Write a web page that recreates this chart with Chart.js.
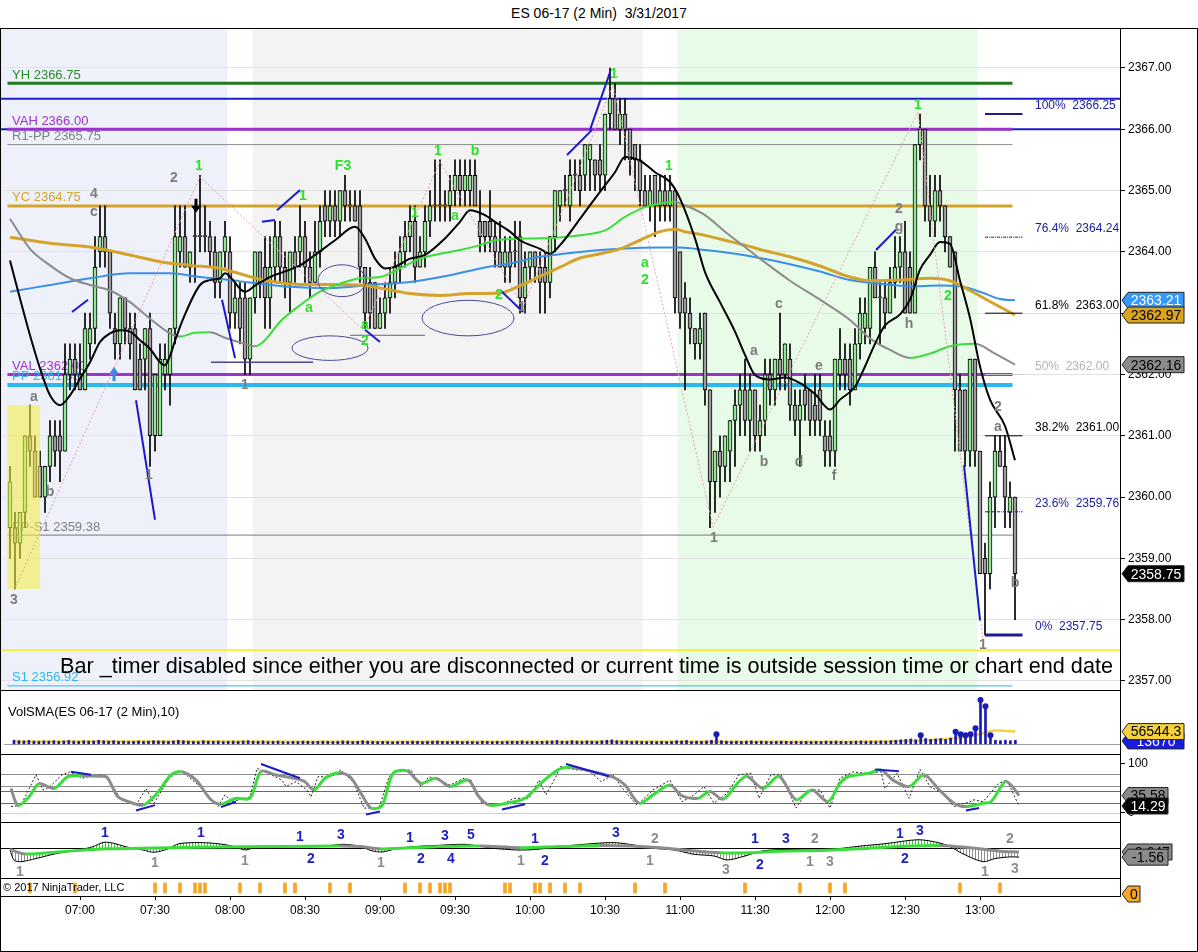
<!DOCTYPE html>
<html>
<head>
<meta charset="utf-8">
<title>ES 06-17 (2 Min) 3/31/2017</title>
<script src="https://cdn.jsdelivr.net/npm/chart.js@4.4.1/dist/chart.umd.min.js"></script>
<style>
html,body{margin:0;padding:0;background:#fff;}
body{width:1198px;height:952px;position:relative;overflow:hidden;font-family:"Liberation Sans",Arial,sans-serif;}
#title{position:absolute;left:0;top:5px;width:1198px;text-align:center;font-size:14px;color:#000;white-space:pre;}
.pane{position:absolute;left:0;width:1198px;}
.hl{position:absolute;height:1px;background:#000;}
.vl{position:absolute;width:1px;background:#000;}
</style>
</head>
<body>
<div id="title">ES 06-17 (2 Min)  3/31/2017</div>
<div class="pane" style="top:28px;height:662px"><canvas id="cMain"></canvas></div>
<div class="pane" style="top:690px;height:64px"><canvas id="cVol"></canvas></div>
<div class="pane" style="top:754px;height:68px"><canvas id="cSto"></canvas></div>
<div class="pane" style="top:822px;height:56px"><canvas id="cOsc"></canvas></div>
<div class="pane" style="top:878px;height:74px"><canvas id="cMrk"></canvas></div>
<div class="hl" style="left:0;top:28px;width:1198px"></div>
<div class="hl" style="left:0;top:690px;width:1121px"></div>
<div class="hl" style="left:0;top:754px;width:1121px"></div>
<div class="hl" style="left:0;top:822px;width:1121px"></div>
<div class="hl" style="left:0;top:878px;width:1121px"></div>
<div class="hl" style="left:0;top:896px;width:1121px"></div>
<div class="hl" style="left:0;top:951px;width:1198px"></div>
<div class="vl" style="left:1120px;top:28px;height:868px"></div>
<div class="vl" style="left:0;top:28px;height:924px"></div>
<div class="vl" style="left:1197px;top:28px;height:924px"></div>
<script>
// ======================= DATA =======================
const firstBarTime = '06:32';
const barMinutes = 2;
const viewStart = '06:28', viewEnd = '13:56';
const timeTicks = ['07:00','07:30','08:00','08:30','09:00','09:30','10:00','10:30','11:00','11:30','12:00','12:30','13:00'];
const priceTicks = [2357,2358,2359,2360,2361,2362,2363,2364,2365,2366,2367];

// OHLC per 2-minute bar: [open, high, low, close]
const bars = [
[2359.5,2360.5,2359,2360.25],[2359.5,2359.75,2358.5,2359.25],[2359.25,2359.75,2359,2359.75],[2359.75,2361,2359.5,2361],[2361,2361.5,2360.5,2360.75],
[2360.75,2361,2360,2360],[2360.5,2360.75,2360,2360],[2360,2360.5,2359.75,2360.5],[2360.5,2361.25,2360.25,2361],[2361,2361.25,2360.5,2360.75],
[2361,2361.25,2360.25,2360.75],[2360.75,2362.5,2360.75,2362],[2362,2362.5,2361.75,2362.25],[2362.25,2362.5,2361.75,2362],[2362,2362.5,2361.75,2361.75],
[2361.75,2363,2361.75,2362.75],[2362.5,2363,2362.25,2362.75],[2362.75,2364.25,2362.5,2363.75],[2364,2364.75,2363.75,2364.25],[2364.25,2364.75,2363.75,2364],
[2364,2364,2362.75,2363],[2362.75,2363,2362.25,2362.5],[2362.5,2363.25,2362.25,2363.25],[2363.25,2363.25,2362.5,2362.75],[2362.75,2363,2362.25,2362.5],
[2362.75,2363,2361.75,2361.75],[2362.25,2362.5,2361.75,2361.75],[2362.25,2362.75,2361.75,2362.75],[2362.75,2363,2360.5,2361],[2361,2362,2360.75,2362],
[2361,2362.5,2361,2362.25],[2362,2362.5,2361.75,2362.25],[2362,2362.75,2361.5,2362.75],[2362.75,2364.75,2362.5,2364.25],[2364,2364.75,2363.75,2364.25],
[2364.25,2364.75,2363.75,2363.75],[2363.75,2364,2363.5,2364],[2364.25,2364.75,2363.5,2364.25],[2364.25,2365.25,2364,2364.25],[2364.25,2364.75,2364,2364.25],
[2364.25,2364.5,2363.75,2364],[2364,2364.25,2363.25,2363.5],[2363.5,2364,2363.25,2364],[2364,2364.5,2363.75,2364.25],[2364,2364.25,2362.75,2363],
[2363,2363.5,2362.75,2363.25],[2363.25,2363.5,2362.5,2362.75],[2363.25,2363.5,2362,2362.25],[2362.25,2363.25,2362,2363.25],[2363.25,2364,2363,2364],
[2364,2364,2363.25,2363.5],[2363.75,2364.25,2362.75,2363.25],[2363.25,2364.25,2362.75,2363.75],[2363.75,2364.5,2363.5,2364.25],[2364.25,2364.5,2363.5,2363.75],
[2363.75,2364,2363.25,2363.5],[2363.5,2364,2363,2364],[2364,2364.25,2363.5,2363.75],[2364,2364.75,2363.75,2364.25],[2364.25,2364.5,2363.5,2363.75],
[2363.75,2364,2363.25,2363.5],[2363.5,2364.5,2363.5,2364],[2364,2364.75,2363.75,2364.5],[2364.75,2365,2364.25,2364.5],[2364.5,2365,2364.25,2364.75],
[2364.75,2365,2364.25,2364.5],[2364.5,2365,2364.25,2365],[2365,2365.25,2364.5,2364.75],[2364.75,2365,2364.5,2364.75],[2364.75,2365,2364.5,2364.5],
[2364.75,2365,2363.5,2363.75],[2363.75,2363.75,2362.75,2363],[2363.5,2363.75,2362.75,2363],[2363.5,2363.5,2362.75,2362.75],[2362.75,2363.25,2362.75,2363],
[2363,2363.5,2362.75,2363.25],[2363.25,2363.75,2363,2363.5],[2363.5,2364,2363.25,2363.75],[2363.75,2364.25,2363.5,2364],[2364,2364.5,2363.75,2364.25],
[2364.25,2364.75,2364,2364.5],[2364.5,2364.75,2363.5,2363.75],[2363.75,2364.25,2363.75,2364],[2364,2364.75,2363.75,2364.5],[2364.5,2365,2364.25,2364.75],
[2364.75,2365.5,2364.5,2364.75],[2364.75,2365.5,2364.5,2364.75],[2364.75,2365,2364.5,2364.75],[2364.75,2365.25,2364.5,2365],[2365,2365.5,2364.75,2365.25],
[2365.25,2365.5,2364.75,2365],[2365,2365.5,2364.75,2365.25],[2365,2365.5,2364.75,2365.25],[2365.25,2365.5,2364.75,2364.75],[2364.5,2365,2364,2364.25],
[2364.5,2364.5,2364,2364.25],[2364.5,2365,2364,2364.25],[2364.25,2364.5,2363.75,2364],[2364,2364.5,2363.75,2363.75],[2363.75,2364.25,2363.5,2364],
[2364,2364.25,2363.5,2363.75],[2364,2364.5,2363.75,2364],[2364.25,2364.5,2363,2363.25],[2363.25,2364,2363,2363.75],[2363.75,2364,2363.5,2364],
[2364,2364,2363.5,2363.75],[2363.75,2364,2363,2363.5],[2363.75,2364,2363,2363.5],[2363.5,2364.25,2363.25,2364.25],[2364.25,2365,2364,2365],
[2364.75,2365,2364.5,2365],[2365,2365.25,2364.75,2365],[2364.75,2365.5,2364.5,2365.25],[2365.25,2365.5,2365,2365.25],[2365.25,2365.5,2364.75,2365],
[2365.25,2365.75,2365,2365.75],[2365.5,2365.75,2365,2365.75],[2365.5,2365.5,2365,2365.25],[2365.5,2365.75,2365,2365.25],[2365.25,2366.25,2365,2366.25],
[2366.25,2367,2366,2366.5],[2366.5,2366.75,2366,2366],[2366,2366.5,2365.75,2366.25],[2366.25,2366.5,2365.5,2366],[2366,2366,2365.25,2365.5],
[2365.75,2365.75,2365,2365.5],[2365.5,2365.75,2364.75,2365],[2365,2365.25,2364.75,2364.75],[2364.75,2365.25,2364.5,2365],[2365.25,2365.25,2364.25,2364.75],
[2364.75,2365.25,2364.5,2365],[2365,2365.25,2364.5,2364.75],[2364.75,2365.25,2364.5,2365],[2365,2365,2363,2363.25],[2364,2364,2362.75,2363],
[2363.25,2363.5,2361.75,2363],[2363,2363.25,2362.5,2362.75],[2362.75,2362.75,2362.25,2362.5],[2362.5,2363,2362.25,2362.75],[2363,2363,2361.5,2361.75],
[2361.75,2361.75,2359.5,2360.25],[2360.25,2360.75,2359.75,2360.75],[2360.75,2361,2360,2360.5],[2360.5,2361,2360.25,2361],[2360.75,2361.25,2360.25,2361.25],
[2361.25,2361.75,2360.5,2361.5],[2361.5,2362,2361,2361.75],[2361.75,2362.25,2361,2361.25],[2361.25,2362,2360.75,2361.75],[2361.75,2361.75,2360.75,2361],
[2361,2361.5,2360.75,2361.25],[2361.25,2362.25,2361,2362],[2362,2362.25,2361.5,2361.75],[2361.75,2362.25,2361.5,2362.25],[2362.25,2363,2361.75,2362],
[2362,2362.5,2361.75,2362.5],[2362.25,2362.5,2361.25,2361.5],[2361.5,2361.75,2361,2361.25],[2361.25,2361.75,2360.5,2361.5],[2361.75,2362,2361.25,2361.5],
[2361.75,2361.75,2361,2361.25],[2361.5,2362,2361,2361.25],[2361.75,2362,2361,2361.25],[2361,2361.25,2360.5,2360.75],[2361,2361.25,2360.5,2360.75],
[2360.75,2362.25,2360.5,2362.25],[2362,2362.75,2361.75,2362.25],[2362.25,2362.5,2361.75,2362],[2362.25,2362.5,2361.5,2361.75],[2361.75,2362.75,2361.75,2362.5],
[2362.5,2363.25,2362.25,2363],[2362.75,2363.25,2362.5,2363],[2362.75,2363.75,2362.5,2363.75],[2363.75,2364,2363.25,2363.25],[2363.25,2363.5,2362.5,2363.25],
[2363.25,2363.5,2362.75,2363],[2363,2363.75,2363,2363.5],[2363.5,2364.25,2363.25,2363.75],[2363.75,2364.25,2363.5,2364],[2364,2364.5,2363,2363],
[2363.75,2364,2363,2363],[2363,2365.75,2363,2365.75],[2365.75,2366.25,2365.5,2366],[2366,2366,2364.5,2364.75],[2364.75,2365.25,2364.25,2364.5],
[2364.5,2365.25,2364.25,2365],[2365,2365.25,2364.5,2364.75],[2364.75,2364.75,2364,2364.25],[2364.25,2364.25,2363.75,2363.75],[2364,2364,2360.75,2361.75],
[2361.75,2362,2360.75,2360.75],[2361.75,2361.75,2360.5,2360.75],[2360.75,2362.25,2360.5,2362.25],[2362.25,2362.25,2360.5,2360.75],[2360.75,2360.75,2358.75,2358.75],
[2359,2359.25,2357.75,2358.75],[2358.75,2360.25,2358.5,2360],[2360,2361,2359.5,2360.75],[2360.75,2361,2360.5,2360.5],[2360.5,2361,2359.5,2360],
[2359.75,2360.25,2359.5,2360],[2360,2360,2358,2358.75]
];

// moving averages: [bar index, price]
const fastMA = [[0,2363.86],[2,2363.24],[4,2362.64],[6,2362.1],[8,2361.66],[10,2361.5],[12,2361.66],[14,2361.93],[16,2362.2],[18,2362.53],[20,2362.67],[22,2362.72],[24,2362.7],[26,2362.56],[28,2362.42],[30,2362.2],[31,2362.15],[32,2362.3],[33,2362.55],[35,2362.98],[38,2363.46],[40,2363.54],[42,2363.57],[43,2363.65],[45,2363.5],[46,2363.4],[47,2363.35],[49,2363.45],[52,2363.59],[58,2363.78],[61,2363.95],[65,2364.19],[69,2364.41],[71,2364.22],[73,2363.89],[75,2363.73],[77,2363.76],[80,2363.89],[83,2363.95],[87,2364.22],[90,2364.49],[92,2364.68],[95,2364.6],[97,2364.49],[100,2364.33],[102,2364.19],[106,2364.05],[108,2363.97],[110,2364.11],[114,2364.54],[118,2364.98],[121,2365.3],[123,2365.55],[126,2365.49],[129,2365.3],[132,2365.14],[134,2364.87],[137,2364.22],[139,2363.67],[142,2363.18],[145,2362.7],[147,2362.32],[149,2361.99],[152,2361.92],[155,2361.95],[158,2361.86],[161,2361.68],[164,2361.43],[166,2361.59],[169,2361.8],[171,2362.13],[173,2362.5],[175,2362.8],[178,2362.98],[180,2363.22],[182,2363.71],[184,2363.95],[186,2364.16],[188,2364.13],[190,2363.53],[192,2362.92],[194,2362.13],[196,2361.59],[199,2361.16],[201,2360.6]];
const midMA = [[0,2364.54],[4,2364.05],[8,2363.78],[12,2363.57],[16,2363.46],[20,2363.37],[24,2363.18],[28,2362.91],[32,2362.67],[34,2362.62],[37,2362.68],[40,2362.69],[43,2362.6],[47,2362.5],[49,2362.46],[51,2362.56],[54,2362.86],[58,2363.13],[62,2363.35],[66,2363.48],[70,2363.57],[74,2363.59],[78,2363.73],[82,2363.89],[86,2363.97],[90,2364.03],[94,2364.11],[97,2364.19],[100,2364.21],[105,2364.22],[109,2364.23],[114,2364.27],[119,2364.35],[123,2364.57],[127,2364.73],[130,2364.79],[133,2364.82],[135,2364.76],[139,2364.6],[143,2364.33],[147,2364.08],[150,2363.89],[156,2363.53],[162,2363.22],[168,2362.89],[172,2362.59],[176,2362.4],[180,2362.27],[184,2362.34],[188,2362.46],[193,2362.5],[197,2362.34],[201,2362.16]];
const goldMA = [[0,2364.24],[8,2364.14],[16,2364.08],[24,2363.95],[30,2363.84],[36,2363.78],[42,2363.73],[47,2363.62],[50,2363.55],[52,2363.52],[58,2363.47],[64,2363.47],[70,2363.46],[76,2363.38],[80,2363.32],[86,2363.29],[92,2363.32],[98,2363.33],[102,2363.45],[106,2363.6],[110,2363.75],[114,2363.9],[118,2363.97],[122,2364.05],[126,2364.19],[130,2364.33],[133,2364.37],[135,2364.33],[139,2364.27],[143,2364.19],[147,2364.11],[150,2364.04],[156,2363.92],[162,2363.77],[168,2363.59],[172,2363.53],[178,2363.54],[184,2363.57],[188,2363.53],[192,2363.37],[196,2363.19],[201,2362.97]];
const blueMA = [[0,2363.35],[8,2363.46],[16,2363.57],[24,2363.65],[32,2363.65],[38,2363.59],[44,2363.54],[48,2363.5],[56,2363.43],[64,2363.41],[72,2363.46],[80,2363.51],[88,2363.62],[96,2363.76],[100,2363.81],[106,2363.92],[114,2364],[122,2364.05],[130,2364.07],[134,2364.07],[139,2364.03],[145,2363.97],[150,2363.9],[156,2363.8],[162,2363.68],[168,2363.54],[174,2363.48],[180,2363.44],[186,2363.45],[190,2363.44],[194,2363.35],[198,2363.23],[201,2363.21]];

// session shading [from, to]
const regionTimes = [['06:28','07:59'],['08:09','10:45'],['10:59','12:59']];
const yellowZoneTimes = ['06:31','06:44'];
const yellowZonePrices = [2358.5, 2361.5];

// horizontal levels
const levelLabels = ['YH 2366.75','','','VAH 2366.00','R1-PP 2365.75','YC 2364.75','VAL 2362.00','PP 2361.83','PP-S1 2359.38','','S1 2356.92'];
const levelPrices = [2366.75,2366.5,2366.0,2366.0,2365.75,2364.75,2362.0,2361.83,2359.38,2357.5,2356.92];
const levelStart = '06:31';
const levelEnd = '13:13';

// fibonacci retracement
const fibPct = ['100%','76.4%','61.8%','50%','38.2%','23.6%','0%'];
const fibPrices = [2366.25,2364.24,2363.00,2362.00,2361.00,2359.76,2357.75];
const fibSpan = ['13:02','13:17'];
const fibLabelTime = '13:22';

// annotations [bar index, price, text]
const greenLabels = [[37.8,2365.4,'1'],[58.6,2364.91,'1'],[66.6,2365.4,'F3'],[85.6,2365.65,'1'],[93,2365.65,'b'],[81,2364.63,'1'],[89,2364.59,'a'],[59.8,2363.08,'a'],[71,2362.81,'a'],[71,2362.55,'2'],[97.8,2363.3,'2'],[120.8,2366.9,'1'],[131.8,2365.4,'1'],[127,2363.82,'a'],[127,2363.54,'2'],[181.6,2366.4,'1'],[187.6,2363.28,'2']];
const grayLabels = [[32.8,2365.2,'2'],[16.8,2364.94,'4'],[16.8,2364.65,'c'],[4.8,2361.63,'a'],[8,2360.08,'b'],[0.8,2358.32,'3'],[47,2361.83,'1'],[27.8,2360.36,'1'],[102.4,2363.1,'1'],[140.8,2359.33,'1'],[148.8,2362.38,'a'],[150.8,2360.57,'b'],[153.8,2363.15,'c'],[157.8,2360.57,'d'],[161.8,2362.14,'e'],[164.8,2360.34,'f'],[177.8,2364.7,'2'],[177.8,2364.41,'g'],[179.8,2362.82,'h'],[197.6,2361.47,'2'],[197.6,2361.14,'a'],[201,2358.6,'b'],[194.6,2357.59,'1']];
const trendLines = [[[12.4,2363.02],[15.6,2363.22]],[[25.2,2361.58],[29,2359.63]],[[42.4,2363.22],[45,2362.27]],[[50.4,2364.49],[53,2364.52]],[[53.4,2364.68],[58,2365.01]],[[71,2362.73],[74,2362.53]],[[98,2363.38],[102.6,2363.02]],[[111.4,2365.58],[116.4,2365.99]],[[116,2365.99],[120,2366.93]],[[173.2,2364.03],[177.2,2364.36]],[[190.8,2360.52],[194,2357.99]]];
const flatSegments = [[[40.2,2362.2],[60.6,2362.2]],[[68,2362.64],[83,2362.64]]];
const zigzag = [[0.8,2358.48],[38,2365.22],[70.6,2362.73],[86,2365.47],[102.6,2363.1],[120.6,2366.72],[140.6,2359.51],[181.6,2366.28],[194.6,2357.67]];
const ellipses = [[66.4,2363.53,4.8,0.26],[64,2362.43,7.6,0.2],[91.6,2362.92,9.2,0.29]]; // center idx, center price, half width (bars), half height (pts)
const downArrows = [[37.2,2364.72]];
const upArrows = [[20.8,2362.04]];
const statusMessage = 'Bar _timer disabled since either you are disconnected or current time is outside session time or chart end date';

// volume panel
const volumes = [14000,12000,11000,13000,10000,9000,11000,10000,12000,9000,
11000,13000,10000,9000,12000,10000,11000,14000,12000,10000,
12000,9000,10000,8000,9000,11000,9000,10000,12000,11000,
10000,9000,11000,14000,12000,10000,9000,8000,12000,10000,
9000,10000,8000,9000,10000,9000,11000,12000,10000,9000,
11000,8000,9000,10000,8000,7000,9000,8000,10000,9000,
8000,9000,10000,9000,8000,9000,11000,10000,8000,9000,
12000,10000,9000,8000,9000,8000,7000,8000,9000,8000,
10000,9000,8000,9000,10000,11000,9000,8000,9000,10000,
8000,9000,8000,7000,10000,9000,8000,9000,8000,9000,
10000,9000,11000,8000,9000,8000,9000,10000,11000,13000,
10000,9000,12000,10000,9000,11000,10000,9000,12000,14000,
16000,12000,10000,11000,9000,10000,9000,8000,9000,8000,
9000,8000,9000,12000,11000,13000,9000,10000,9000,11000,
14000,44000,12000,10000,9000,10000,9000,10000,11000,9000,
10000,9000,8000,9000,10000,9000,8000,9000,8000,9000,
8000,9000,8000,10000,9000,10000,9000,8000,9000,10000,
11000,9000,10000,9000,11000,10000,12000,14000,16000,18000,
20000,16000,40000,22000,18000,20000,22000,18000,24000,56000,
44000,40000,44000,72000,202000,174000,40000,14000,12000,14000,
12000,13670];
const volSMA = [[0,11000],[40,10500],[80,9500],[120,11000],[160,9500],[178,13000],[184,18000],[188,24000],[191,32000],[193,40000],[195,52000],[197,62000],[199,60000],[201,56544.3]];
const volTitle = 'VolSMA(ES 06-17 (2 Min),10)';

// stochastic panel
const stochSlow = [[0.2,50],[1.6,15],[3.8,33],[5.8,60],[8.8,50],[11.6,74],[14.4,76],[18,75],[19.4,73],[21.6,33],[23.8,23],[26.6,16],[29.4,40],[32.2,78],[34.4,84],[37.2,67],[40.2,27],[42.2,18],[45.2,30],[48,30],[50.2,85],[53,78],[55.8,73],[58.8,65],[60.8,47],[63,71],[65.8,82],[68,74],[70.2,40],[72.2,10],[74.4,15],[76.6,81],[79.4,86],[82.2,61],[85.2,71],[88,54],[91.6,67],[93.8,33],[95.8,16],[99.4,20],[103,30],[105.8,57],[107.2,70],[110,90],[112.4,93],[116.6,84],[120.6,73],[123,57],[125.8,20],[128.6,37],[132,57],[134.4,35],[137.6,30],[140,44],[142.6,28],[145.8,64],[147.4,75],[150.6,50],[153.8,75],[157.2,27],[160.4,47],[163.6,23],[166,61],[167.6,74],[171.8,81],[174.2,88],[176.6,67],[179.8,54],[182.8,78],[185.6,50],[188.8,20],[191.2,13],[194.6,20],[196.2,23],[199,64],[200.2,57],[201.8,35.58]];
const stochFast = [[0.2,13],[2.2,16],[5.2,78],[6.6,47],[8,54],[10.4,78],[12,84],[14.4,71],[17.6,78],[19.4,75],[22.2,27],[25.2,16],[27.2,50],[28.8,20],[31.6,67],[33.8,88],[35.2,78],[38,54],[41.6,13],[43,37],[44.4,23],[48,33],[49.4,91],[52.2,78],[54.4,67],[55.2,54],[57.2,64],[59.4,47],[60.2,33],[61.6,74],[64.4,74],[66.2,88],[68.8,61],[70.8,10],[73.8,10],[75.8,74],[77.2,84],[80.2,88],[82.2,54],[83.8,74],[86.6,64],[88,57],[90.8,71],[92.2,67],[94.4,20],[98,16],[100.8,30],[103.8,30],[105.8,67],[107.2,37],[109.4,78],[110,95],[113.2,88],[115.6,88],[118.2,64],[120.6,78],[122.2,54],[125.4,16],[128.6,47],[132,67],[134.4,23],[136.8,37],[138.8,54],[140.8,20],[143.4,40],[145.8,78],[148.2,81],[149.8,30],[152.2,78],[154.2,78],[157.2,10],[159.6,47],[162,47],[164,10],[166,71],[168.6,84],[171,81],[174.2,84],[175,50],[177.4,81],[179.8,30],[182,89],[184,54],[186.4,40],[188.8,13],[192,23],[192.8,27],[194.6,23],[197.8,61],[199.4,67],[201.8,14.29]];
const stochLevels = [80,55,45,20,0];
const stochTicks = [0,100];
const stochDivergences = [[[12.2,84],[16.2,78]],[[25.2,5],[29,16]],[[42.2,12],[45.2,23]],[[50.2,100],[58,71]],[[71.2,-3],[74,3]],[[98.4,7],[103,18]],[[111.2,100],[119.8,75]],[[173,89],[177.8,85]],[[191.2,5],[193.8,10]]];

// oscillator panel
const macdLine = [[0,-0.3],[0.8,-2.05],[2.2,-2.35],[5.2,-1.8],[9.4,-0.9],[13.8,-0.3],[16.6,0.3],[18.8,1.05],[20.8,0.87],[23,0.3],[26.6,-0.3],[28.8,-0.7],[31.6,-0.1],[33.8,0.8],[38,1.0],[41.6,0.8],[44.4,0.4],[47.2,-0.3],[49.4,0.3],[55.2,0.3],[62.2,0.3],[66.6,0.7],[70.2,0.3],[72.2,-0.4],[74.4,-0.65],[77.2,-0.1],[80.8,0.3],[85.2,0.5],[90.8,0.7],[93.8,0.4],[96.6,0.0],[101.6,-0.3],[105.2,-0.2],[110,0.3],[114.8,0.7],[120.6,1.0],[124.6,0.6],[128.6,0.0],[132.8,-0.3],[136.8,-1.05],[140.8,-1.35],[143.4,-2.05],[146.6,-1.45],[150.6,-0.45],[155.6,-0.2],[160.4,-0.3],[165.2,-0.1],[170.2,0.4],[175,0.8],[181.6,1.5],[185.6,1.0],[188,0.3],[190.4,-0.9],[194.6,-2.35],[197,-1.8],[200.2,-1.5],[201.8,-1.56]];
const signalLine = [[0,-0.2],[3,-1.0],[10,-0.6],[19.4,-0.1],[26.6,0.0],[38,0.2],[54,0.3],[66,0.4],[70.2,0.3],[74,-0.1],[78,0.0],[86,0.3],[94,0.4],[102,0.1],[110,0.3],[118,0.5],[124,0.4],[130,0.1],[136,-0.4],[142,-0.8],[148,-0.8],[154,-0.5],[162,-0.4],[170,-0.1],[178,0.3],[186,0.5],[192,0.1],[198,-0.5],[201.8,-0.647]];
const oscBlueLabels = [[19,2.7,'1'],[38.2,2.7,'1'],[58,2.0,'1'],[60.2,-1.9,'2'],[66.2,2.3,'3'],[80,1.8,'1'],[82.2,-1.9,'2'],[87,2.2,'3'],[88.2,-1.9,'4'],[92.2,2.3,'5'],[105,1.6,'1'],[107,-2.2,'2'],[121.2,2.7,'3'],[149,1.6,'1'],[150,-2.9,'2'],[155.2,1.6,'3'],[178,2.5,'1'],[182,3.0,'3'],[179,-1.9,'2']];
const oscGrayLabels = [[2,-4.2,'1'],[29,-2.6,'1'],[47,-2.2,'1'],[74.2,-2.6,'1'],[102.2,-2.2,'1'],[129,1.6,'2'],[128,-2.2,'1'],[143.2,-3.8,'3'],[161,1.6,'2'],[160,-2.4,'1'],[164,-2.4,'3'],[200,1.6,'2'],[195,-4.2,'1'],[201,-3.6,'3']];

// signal marker panel: bar indexes where a marker fires
const markerBars = [4,13,29,31,34,37,38,39,46,50,55,57,64,68,79,82,84,86,87,88,99,100,105,106,108,111,114,125,131,147,158,164,167,190,198];
const markerValue = 0;
const copyright = '\u00A9 2017 NinjaTrader, LLC';

// ======================= STYLE =======================
const FONT = '"Liberation Sans", Arial, sans-serif';
Chart.defaults.font.family = FONT;
Chart.defaults.font.size = 12;
Chart.defaults.color = '#000';
const AXIS_W = 78;
const UP = '#90e890', DOWN = '#9c9c9c';
const GREEN = '#3ade3a', GRAY = '#8c8c8c';
const REGION_COLORS = ['#eff1fa','#f3f3f3','#e8fbe8'];
const LEVEL_STYLE = [
 {c:'#1f7a1f', w:3, t:'#2b8a2b'}, {c:'#1c1ccf', w:2, full:true}, {c:'#1c1ccf', w:2, full:true},
 {c:'#9a35c8', w:3, t:'#9a35c8'}, {c:'#8c8c8c', w:1, t:'#808080'}, {c:'#d4a32c', w:3, t:'#d4a32c'},
 {c:'#9a35c8', w:3, t:'#9a35c8'}, {c:'#2bb8ee', w:4, t:'#2bb8ee'}, {c:'#7a7a7a', w:1, t:'#808080'},
 {c:'#f5ee3a', w:2, full:true}, {c:'#2bb8ee', w:1, t:'#2bb8ee'}
];
const FIB_STYLE = [
 {c:'#1c1c8c', w:2, d:[], t:'#1c1c9c'}, {c:'#1c1c8c', w:1, d:[3,1,1,1], t:'#1c1c9c'}, {c:'#000', w:1, d:[], t:'#000'},
 {c:'#c8c8c8', w:1, d:[], t:'#b4b4b4'}, {c:'#000', w:1, d:[], t:'#000'}, {c:'#1c1c8c', w:1, d:[3,1,1,1], t:'#1c1c9c'},
 {c:'#1c1c8c', w:3, d:[], t:'#1c1c9c'}
];

// ======================= HELPERS =======================
const hm = s => { const p = s.split(':'); return (+p[0]) * 60 + (+p[1]); };
const T0 = hm(firstBarTime);
const tb = i => T0 + barMinutes * i;
const fmt = m => String(Math.floor(m / 60)).padStart(2, '0') + ':' + String(Math.round(m % 60)).padStart(2, '0');
const pts = arr => arr.map(([i, v]) => ({x: tb(i), y: v}));
const X = (ch, v) => ch.scales.x.getPixelForValue(v);
const Y = (ch, v) => ch.scales.y.getPixelForValue(v);
const slopeColor = c => (c.p1.parsed.y >= c.p0.parsed.y ? GREEN : GRAY);

function tag(ctx, x, y, text, bg, fg, w) {
  const h = 16, tip = 6;
  ctx.save();
  ctx.beginPath();
  ctx.moveTo(x, y); ctx.lineTo(x + tip, y - h / 2); ctx.lineTo(x + tip + w, y - h / 2);
  ctx.lineTo(x + tip + w, y + h / 2); ctx.lineTo(x + tip, y + h / 2); ctx.closePath();
  ctx.fillStyle = bg; ctx.fill();
  ctx.lineWidth = 1; ctx.strokeStyle = '#222'; ctx.stroke();
  ctx.fillStyle = fg; ctx.font = '14px ' + FONT; ctx.textAlign = 'center'; ctx.textBaseline = 'middle';
  ctx.fillText(text, x + tip + w / 2, y + 1);
  ctx.restore();
}
function seg(ctx, ch, a, b) {
  ctx.beginPath(); ctx.moveTo(X(ch, tb(a[0])), Y(ch, a[1])); ctx.lineTo(X(ch, tb(b[0])), Y(ch, b[1])); ctx.stroke();
}
function labels(ctx, ch, list, color, font) {
  ctx.fillStyle = color; ctx.font = font; ctx.textAlign = 'center'; ctx.textBaseline = 'middle';
  list.forEach(([i, v, t]) => ctx.fillText(t, X(ch, tb(i)), Y(ch, v)));
}
function rightAxis(min, max, extra) {
  return Object.assign({
    type: 'linear', position: 'right', min, max,
    grid: {display: false}, border: {display: false}, ticks: {display: false},
    afterFit: s => { s.width = AXIS_W; s.paddingTop = 0; s.paddingBottom = 0; }
  }, extra || {});
}
const xHidden = () => ({type: 'linear', min: hm(viewStart), max: hm(viewEnd), offset: false, display: false});
const baseOpts = (scales) => ({
  responsive: true, maintainAspectRatio: false, animation: false, events: [],
  layout: {padding: 0},
  plugins: {legend: {display: false}, tooltip: {enabled: false}},
  scales
});

// ======================= MAIN PRICE PANEL =======================
const mainDeco = {
  id: 'mainDeco',
  beforeDraw(ch) {
    const {ctx, chartArea: a} = ch;
    ctx.save();
    regionTimes.forEach((r, k) => {
      const x1 = Math.max(a.left, X(ch, hm(r[0]))), x2 = Math.min(a.right, X(ch, hm(r[1])));
      ctx.fillStyle = REGION_COLORS[k];
      ctx.fillRect(x1, a.top, x2 - x1, a.bottom - a.top);
    });
    ctx.restore();
  },
  beforeDatasetsDraw(ch) {
    const {ctx, chartArea: a} = ch;
    ctx.save();
    levelPrices.forEach((p, k) => {
      const st = LEVEL_STYLE[k];
      const y = Y(ch, p);
      const xs = st.full ? a.left : X(ch, hm(levelStart));
      const xe = st.full ? a.right : X(ch, hm(levelEnd));
      ctx.strokeStyle = st.c; ctx.lineWidth = st.w;
      ctx.beginPath(); ctx.moveTo(xs, y); ctx.lineTo(xe, y); ctx.stroke();
    });
    ctx.font = '13px ' + FONT; ctx.textAlign = 'left'; ctx.textBaseline = 'middle';
    levelLabels.forEach((t, k) => {
      if (!t) return;
      ctx.fillStyle = LEVEL_STYLE[k].t;
      ctx.fillText(t, a.left + 12, Y(ch, levelPrices[k]) - 8);
    });
    ctx.restore();
  },
  afterDatasetsDraw(ch) {
    const {ctx, chartArea: a} = ch;
    ctx.save();
    ctx.beginPath(); ctx.rect(a.left, a.top, a.right - a.left, a.bottom - a.top); ctx.clip();
    // yellow zone
    const yx1 = X(ch, hm(yellowZoneTimes[0])), yx2 = X(ch, hm(yellowZoneTimes[1]));
    const yy1 = Y(ch, yellowZonePrices[1]), yy2 = Y(ch, yellowZonePrices[0]);
    ctx.fillStyle = 'rgba(245,238,70,0.58)';
    ctx.fillRect(yx1, yy1, yx2 - yx1, yy2 - yy1);
    // zigzag
    ctx.strokeStyle = '#e6a0a8'; ctx.lineWidth = 1; ctx.setLineDash([2, 2]);
    ctx.beginPath();
    zigzag.forEach(([i, v], k) => { const x = X(ch, tb(i)), y = Y(ch, v); k ? ctx.lineTo(x, y) : ctx.moveTo(x, y); });
    ctx.stroke(); ctx.setLineDash([]);
    // flat segments
    ctx.lineWidth = 1.5; ctx.strokeStyle = '#4a4a8a'; seg(ctx, ch, flatSegments[0][0], flatSegments[0][1]);
    ctx.lineWidth = 1; ctx.strokeStyle = '#666'; seg(ctx, ch, flatSegments[1][0], flatSegments[1][1]);
    // trend lines
    ctx.strokeStyle = '#1a1acc'; ctx.lineWidth = 2;
    trendLines.forEach(([p, q]) => seg(ctx, ch, p, q));
    // ellipses
    ctx.strokeStyle = '#4a4a9a'; ctx.lineWidth = 1;
    ellipses.forEach(([i, v, hw, hh]) => {
      const cx = X(ch, tb(i)), cy = Y(ch, v);
      const rx = X(ch, tb(i + hw)) - cx, ry = Y(ch, v - hh) - cy;
      ctx.beginPath(); ctx.ellipse(cx, cy, rx, ry, 0, 0, Math.PI * 2); ctx.stroke();
    });
    // arrows
    downArrows.forEach(([i, v]) => {
      const x = X(ch, tb(i)), y = Y(ch, v);
      ctx.fillStyle = '#000';
      ctx.fillRect(x - 1.5, y - 9, 3, 8);
      ctx.beginPath(); ctx.moveTo(x - 5, y - 2); ctx.lineTo(x + 5, y - 2); ctx.lineTo(x, y + 5); ctx.closePath(); ctx.fill();
    });
    upArrows.forEach(([i, v]) => {
      const x = X(ch, tb(i)), y = Y(ch, v);
      ctx.fillStyle = '#3a8ae8';
      ctx.fillRect(x - 1.5, y + 1, 3, 8);
      ctx.beginPath(); ctx.moveTo(x - 5, y + 2); ctx.lineTo(x + 5, y + 2); ctx.lineTo(x, y - 5); ctx.closePath(); ctx.fill();
    });
    // labels
    labels(ctx, ch, grayLabels, '#7c7c7c', 'bold 14px ' + FONT);
    labels(ctx, ch, greenLabels, '#2ee02e', 'bold 14px ' + FONT);
    // fibonacci
    const fx1 = X(ch, hm(fibSpan[0])), fx2 = X(ch, hm(fibSpan[1])), fl = X(ch, hm(fibLabelTime));
    fibPrices.forEach((p, k) => {
      const st = FIB_STYLE[k], y = Y(ch, p);
      ctx.strokeStyle = st.c; ctx.lineWidth = st.w; ctx.setLineDash(st.d);
      ctx.beginPath(); ctx.moveTo(fx1, y); ctx.lineTo(fx2, y); ctx.stroke();
      ctx.setLineDash([]);
      ctx.fillStyle = st.t; ctx.font = '12px ' + FONT; ctx.textAlign = 'left'; ctx.textBaseline = 'middle';
      ctx.fillText(fibPct[k] + '  ' + p.toFixed(2), fl, y - 8);
    });
    // status message
    let size = 19;
    ctx.font = size + 'px ' + FONT;
    const w = ctx.measureText(statusMessage).width;
    size = size * 1053 / w;
    ctx.font = size.toFixed(2) + 'px ' + FONT;
    ctx.fillStyle = '#000'; ctx.textAlign = 'left'; ctx.textBaseline = 'middle';
    ctx.fillText(statusMessage, a.left + 60, a.top + 639);
    ctx.restore();
  },
  afterDraw(ch) {
    const {ctx, chartArea: a} = ch;
    const x = a.right + 2;
    const last = bars[bars.length - 1][3];
    const b = blueMA[blueMA.length - 1][1], g = goldMA[goldMA.length - 1][1], m = midMA[midMA.length - 1][1];
    tag(ctx, x, Y(ch, b), b.toFixed(2), '#3399ff', '#fff', 56);
    tag(ctx, x, Y(ch, g), g.toFixed(2), '#d9a521', '#000', 56);
    tag(ctx, x, Y(ch, m), m.toFixed(2), '#8a8a8a', '#000', 56);
    tag(ctx, x, Y(ch, last), last.toFixed(2), '#000', '#fff', 56);
  }
};

new Chart(document.getElementById('cMain'), {
  type: 'bar',
  data: {datasets: [
    {type: 'line', data: pts(fastMA), borderColor: '#000', borderWidth: 2, pointRadius: 0, cubicInterpolationMode: 'monotone', order: 1},
    {type: 'line', data: pts(midMA), borderColor: GRAY, segment: {borderColor: slopeColor}, borderWidth: 2, pointRadius: 0, cubicInterpolationMode: 'monotone', order: 2},
    {type: 'line', data: pts(goldMA), borderColor: '#d4a32c', borderWidth: 3, pointRadius: 0, cubicInterpolationMode: 'monotone', order: 3},
    {type: 'line', data: pts(blueMA), borderColor: '#3b8fe6', borderWidth: 2, pointRadius: 0, cubicInterpolationMode: 'monotone', order: 4},
    {type: 'bar', data: bars.map((b, i) => ({x: tb(i), y: [Math.min(b[0], b[3]), Math.max(b[0], b[3])]})),
      backgroundColor: c => { const b = bars[c.dataIndex]; return b && b[3] > b[0] ? UP : DOWN; },
      borderColor: '#000', borderWidth: 1, borderSkipped: false, barThickness: 4, grouped: false, minBarLength: 1, order: 5},
    {type: 'bar', data: bars.map((b, i) => ({x: tb(i), y: [b[2], b[1]]})), backgroundColor: '#000', barThickness: 1, grouped: false, order: 6}
  ]},
  options: baseOpts({
    x: xHidden(),
    y: rightAxis(2356.853, 2367.6525, {
      grid: {display: true, color: '#e2e2e2', tickColor: '#000', tickLength: 5, drawTicks: true},
      ticks: {display: true, padding: 3, font: {size: 12}, color: '#000', callback: v => Number(v).toFixed(2)},
      afterBuildTicks: s => { s.ticks = priceTicks.map(v => ({value: v})); }
    })
  }),
  plugins: [mainDeco]
});

// ======================= VOLUME PANEL =======================
const volDeco = {
  id: 'volDeco',
  beforeDatasetsDraw(ch) {
    const {ctx, chartArea: a} = ch;
    ctx.save();
    ctx.strokeStyle = '#a0a0a0'; ctx.lineWidth = 1;
    const y = Math.round(Y(ch, 0)) + 0.5;
    ctx.beginPath(); ctx.moveTo(a.left, y); ctx.lineTo(a.right, y); ctx.stroke();
    ctx.restore();
  },
  afterDraw(ch) {
    const {ctx, chartArea: a} = ch;
    ctx.save();
    ctx.fillStyle = '#000'; ctx.font = '13px ' + FONT; ctx.textAlign = 'left'; ctx.textBaseline = 'middle';
    ctx.fillText(volTitle, 8, 22);
    ctx.restore();
    const v = volumes[volumes.length - 1], s = volSMA[volSMA.length - 1][1];
    tag(ctx, a.right + 2, Y(ch, v), String(v), '#1a1ae0', '#fff', 56);
    tag(ctx, a.right + 2, Y(ch, s), s.toFixed(1), '#f5d23c', '#000', 56);
  }
};
new Chart(document.getElementById('cVol'), {
  type: 'bar',
  data: {datasets: [
    {type: 'line', data: volumes.map((v, i) => ({x: tb(i), y: v})), showLine: false,
      pointRadius: c => (volumes[c.dataIndex] > 30000 ? 3 : 1.4),
      pointStyle: c => (volumes[c.dataIndex] > 30000 ? 'circle' : 'rect'),
      pointBackgroundColor: '#1a1ab4', pointBorderWidth: 0, order: 1},
    {type: 'bar', data: volumes.map((v, i) => ({x: tb(i), y: v})), backgroundColor: '#1a1ab4', barThickness: 2, grouped: false, order: 2},
    {type: 'line', data: pts(volSMA), borderColor: '#f5d23c', borderWidth: 2.5, pointRadius: 0, cubicInterpolationMode: 'monotone', order: 3}
  ]},
  options: baseOpts({x: xHidden(), y: rightAxis(-28270, 230200)}),
  plugins: [volDeco]
});

// ======================= STOCHASTIC PANEL =======================
const STOCH_LINE = ['#8c8c8c','#8c8c8c','#3a8a3a','#3a8a3a','#d0d0d0'];
const stoDeco = {
  id: 'stoDeco',
  beforeDatasetsDraw(ch) {
    const {ctx, chartArea: a} = ch;
    ctx.save();
    stochLevels.forEach((v, k) => {
      const y = Math.round(Y(ch, v)) + 0.5;
      ctx.strokeStyle = STOCH_LINE[k]; ctx.lineWidth = 1;
      ctx.beginPath(); ctx.moveTo(a.left, y); ctx.lineTo(a.right, y); ctx.stroke();
    });
    ctx.restore();
  },
  afterDatasetsDraw(ch) {
    const {ctx} = ch;
    ctx.save();
    ctx.strokeStyle = '#1a1acc'; ctx.lineWidth = 2;
    stochDivergences.forEach(([p, q]) => seg(ctx, ch, p, q));
    ctx.restore();
  },
  afterDraw(ch) {
    const {ctx, chartArea: a} = ch;
    const s = stochSlow[stochSlow.length - 1][1], f = stochFast[stochFast.length - 1][1];
    tag(ctx, a.right + 2, Y(ch, s), s.toFixed(2), '#8a8a8a', '#000', 40);
    tag(ctx, a.right + 2, Y(ch, f), f.toFixed(2), '#000', '#fff', 40);
  }
};
new Chart(document.getElementById('cSto'), {
  type: 'line',
  data: {datasets: [
    {data: pts(stochSlow), borderColor: GRAY, segment: {borderColor: slopeColor}, borderWidth: 3, pointRadius: 0, tension: 0.3, order: 1},
    {data: pts(stochFast), borderColor: '#222', borderDash: [2, 2], borderWidth: 1, pointRadius: 0, tension: 0, order: 2}
  ]},
  options: baseOpts({
    x: xHidden(),
    y: rightAxis(-18.4, 120.4, {
      grid: {display: true, drawOnChartArea: false, tickColor: '#000', tickLength: 5},
      ticks: {display: true, padding: 3, font: {size: 12}, color: '#000'},
      afterBuildTicks: s => { s.ticks = stochTicks.map(v => ({value: v})); }
    })
  }),
  plugins: [stoDeco]
});

// ======================= OSCILLATOR PANEL =======================
function stripes(color) {
  const c = document.createElement('canvas'); c.width = 3; c.height = 4;
  const g = c.getContext('2d'); g.fillStyle = color; g.fillRect(0, 0, 1, 4);
  return g.createPattern(c, 'repeat');
}
const oscDeco = {
  id: 'oscDeco',
  beforeDatasetsDraw(ch) {
    const {ctx, chartArea: a} = ch;
    ctx.save();
    const y = Math.round(Y(ch, 0)) + 0.5;
    ctx.strokeStyle = '#000'; ctx.lineWidth = 1;
    ctx.beginPath(); ctx.moveTo(a.left, y); ctx.lineTo(a.right, y); ctx.stroke();
    ctx.restore();
  },
  afterDatasetsDraw(ch) {
    const {ctx} = ch;
    ctx.save();
    labels(ctx, ch, oscBlueLabels, '#1c1cc8', 'bold 14px ' + FONT);
    labels(ctx, ch, oscGrayLabels, '#8c8c8c', 'bold 14px ' + FONT);
    ctx.restore();
  },
  afterDraw(ch) {
    const {ctx, chartArea: a} = ch;
    const s = signalLine[signalLine.length - 1][1], m = macdLine[macdLine.length - 1][1];
    tag(ctx, a.right + 2, Y(ch, s), s.toFixed(3), '#8a8a8a', '#000', 44);
    tag(ctx, a.right + 2, Y(ch, m), m.toFixed(2), '#8a8a8a', '#000', 40);
  }
};
new Chart(document.getElementById('cOsc'), {
  type: 'line',
  data: {datasets: [
    {data: pts(signalLine), borderColor: GRAY, segment: {borderColor: slopeColor}, borderWidth: 3, pointRadius: 0, tension: 0.3, order: 1},
    {data: pts(macdLine), borderColor: '#000', borderWidth: 1, pointRadius: 0, tension: 0.3, order: 2,
      fill: {target: 0, above: stripes('#3ac83a'), below: stripes('#8c8c8c')}}
  ]},
  options: baseOpts({x: xHidden(), y: rightAxis(-5.21, 4.61)}),
  plugins: [oscDeco]
});

// ======================= MARKER PANEL + TIME AXIS =======================
const mrkDeco = {
  id: 'mrkDeco',
  afterDraw(ch) {
    const {ctx, chartArea: a} = ch;
    ctx.save();
    ctx.fillStyle = '#000'; ctx.font = '11px ' + FONT; ctx.textAlign = 'left'; ctx.textBaseline = 'middle';
    ctx.fillText(copyright, 3, a.top + 10);
    ctx.restore();
    tag(ctx, a.right + 2, a.bottom - 2, String(markerValue), '#f5a623', '#000', 12);
  }
};
new Chart(document.getElementById('cMrk'), {
  type: 'bar',
  data: {datasets: [
    {data: markerBars.map(i => ({x: tb(i), y: [3, 13]})), backgroundColor: '#f5a623', barThickness: 3, grouped: false}
  ]},
  options: baseOpts({
    x: {
      type: 'linear', min: hm(viewStart), max: hm(viewEnd), offset: false, position: 'bottom',
      afterBuildTicks: s => { s.ticks = timeTicks.map(t => ({value: hm(t)})); },
      ticks: {callback: v => fmt(v), padding: 3, maxRotation: 0, autoSkip: false, font: {size: 12}, color: '#000'},
      grid: {display: true, drawOnChartArea: false, drawTicks: true, tickLength: 4, tickColor: '#000', offset: false},
      border: {display: false},
      afterFit: s => { s.height = 56; s.paddingLeft = 0; s.paddingRight = 0; }
    },
    y: rightAxis(0, 18)
  }),
  plugins: [mrkDeco]
});
</script>
</body>
</html>
